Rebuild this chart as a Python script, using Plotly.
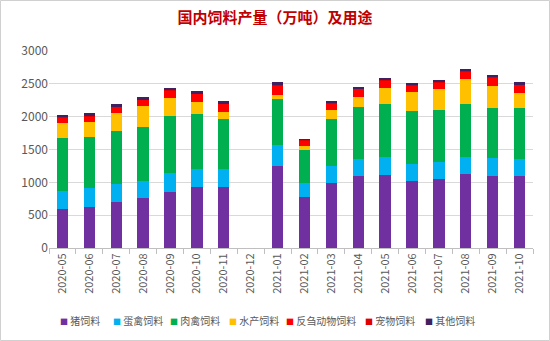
import plotly.graph_objects as go

months = ["2020-05", "2020-06", "2020-07", "2020-08", "2020-09", "2020-10", "2020-11", "2020-12",
          "2021-01", "2021-02", "2021-03", "2021-04", "2021-05", "2021-06", "2021-07", "2021-08",
          "2021-09", "2021-10"]
pig = [595, 630, 702, 758, 859, 936, 936, None, 1256, 778, 997, 1093, 1109, 1022, 1048, 1124, 1098, 1098]
layer = [280, 280, 279, 259, 290, 274, 264, None, 310, 214, 254, 270, 274, 259, 259, 269, 270, 260]
broiler = [798, 773, 794, 819, 854, 824, 758, None, 697, 493, 717, 788, 809, 804, 793, 799, 763, 773]
aqua = [224, 229, 279, 320, 280, 188, 106, None, 71, 61, 132, 147, 244, 285, 321, 381, 340, 234]
ruminant = [92, 93, 98, 98, 122, 127, 133, None, 142, 93, 102, 127, 116, 106, 105, 111, 122, 121]
pet = [9, 9, 9, 9, 10, 10, 10, None, 11, 9, 10, 11, 11, 11, 11, 11, 11, 11]
other = [21, 35, 26, 30, 26, 26, 25, None, 35, 10, 15, 15, 20, 20, 21, 31, 30, 25]

names = ["猪饲料", "蛋禽饲料", "肉禽饲料", "水产饲料", "反刍动物饲料", "宠物饲料", "其他饲料"]
values = [pig, layer, broiler, aqua, ruminant, pet, other]
colors = ["#7030A0", "#00B0F0", "#00B050", "#FFC000", "#FF0000", "#E00000", "#40205F"]

font_family = "Noto Sans CJK SC, Liberation Sans, sans-serif"

fig = go.Figure()
for name, vals, color in zip(names, values, colors):
    fig.add_trace(go.Bar(x=months, y=vals, name=name, marker=dict(color=color, line=dict(width=0)),
                         width=0.42, showlegend=False))

L, R, T, B = 49, 17, 51, 93
W, H = 550, 341
pw, ph = W - L - R, H - T - B

fig.update_layout(
    width=W, height=H,
    barmode="stack",
    margin=dict(l=L, r=R, t=T, b=B),
    paper_bgcolor="white", plot_bgcolor="white",
    font=dict(family=font_family, color="#595959", size=11),
    title=dict(text="<b>国内饲料产量（万吨）及用途</b>", x=0.5, xanchor="center",
               y=1 - 18 / H, yanchor="middle",
               font=dict(family=font_family, size=15, color="#C00000")),
    showlegend=False,
    xaxis=dict(type="category", categoryorder="array", categoryarray=months,
               tickangle=-90, showline=True, linecolor="#BFBFBF", linewidth=1,
               ticks="outside", tickson="boundaries", ticklen=5, tickcolor="#BFBFBF",
               showgrid=False, tickfont=dict(size=11, color="#595959")),
    yaxis=dict(range=[0, 3000], tickvals=[0, 500, 1000, 1500, 2000, 2500, 3000],
               showgrid=True, gridcolor="#D9D9D9", gridwidth=1, zeroline=False,
               showline=False, tickfont=dict(size=12, color="#595959"), ticks=""),
)

# manual legend (single row, like the reference)
legend_px = [58, 111, 168, 227, 284, 363, 423]
legend_y = -(320 - (H - B)) / ph
for px, name, color in zip(legend_px, names, colors):
    fig.add_annotation(xref="paper", yref="paper", x=(px - L) / pw, y=legend_y,
                       xanchor="left", yanchor="middle", showarrow=False,
                       text=f"<span style='color:{color};font-size:8px'>■</span> {name}",
                       font=dict(size=10, color="#595959", family=font_family))

fig.add_shape(type="rect", xref="paper", yref="paper",
              x0=-(L - 0.5) / pw, x1=1 + (R - 0.5) / pw,
              y0=-(B - 0.5) / ph, y1=1 + (T - 0.5) / ph,
              line=dict(color="#D0D0D0", width=1), fillcolor="rgba(0,0,0,0)", layer="below")

fig.write_html("out.html")
